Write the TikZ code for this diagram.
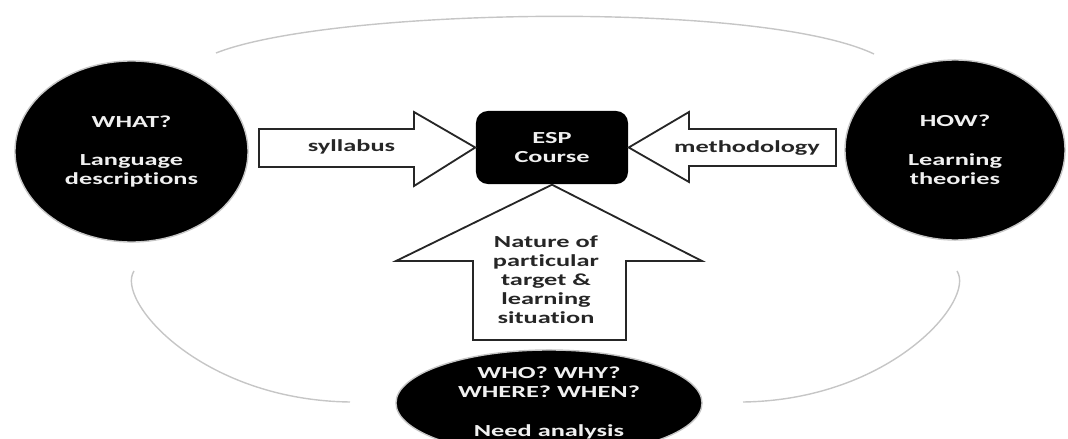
\documentclass[tikz,border=0pt]{standalone}
\usepackage{fontspec}
\setmainfont[FakeStretch=1.56, Ligatures={NoCommon}]{Carlito}
\usetikzlibrary{positioning, calc, shapes.geometric}

\tikzset{
    blob/.style={ellipse, fill=black, draw=gray!45, line width=1pt, inner sep=0pt,
        text=gray!12, align=center, font=\bfseries\fontsize{12}{13.5}\selectfont},
    blockarrow/.style={draw=black!85, line width=1.3pt, fill=white, line join=miter},
    lbl/.style={text=black!85, align=center, inner sep=0pt,
        font=\bfseries\fontsize{12}{13.5}\selectfont},
    ring/.style={draw=gray!45, line width=1pt},
}

\begin{document}
\begin{tikzpicture}[x=0.025cm, y=-0.025cm]
    \useasboundingbox (0,0) rectangle (1068,439);

    % faint ring round the whole cycle
    \draw[ring] (216,53) .. controls (330,8) and (760,0) .. (874,54);
    \draw[ring] (134,271) .. controls (115,300) and (200,400) .. (350,402);
    \draw[ring] (957,271) .. controls (976,300) and (891,400) .. (743,402);

    \node[blob, minimum width=5.825cm, minimum height=4.525cm] (what) at (131.5,151.5)
        {WHAT?\\[14pt]Language\\descriptions};
    \node[blob, minimum width=5.5cm, minimum height=4.5cm] (how) at (955,150)
        {HOW?\\[14pt]Learning\\theories};
    \node[blob, minimum width=7.65cm, minimum height=2.65cm] (who) at (549,403)
        {WHO? WHY?\\WHERE? WHEN?\\[14pt]Need analysis};
    \node[blob, rectangle, rounded corners=0.3cm, draw=none,
        minimum width=3.8cm, minimum height=1.825cm] (esp) at (552,147.5) {ESP\\Course};

    % block arrows into the course
    \draw[blockarrow] (259,129) -- (414,129) -- (414,112) -- (esp.west)
        -- (414,186) -- (414,167) -- (259,167) -- cycle;
    \draw[blockarrow] (836,129) -- (689,129) -- (689,112) -- (esp.east)
        -- (689,182) -- (689,166) -- (836,166) -- cycle;
    \draw[blockarrow] (473,340) -- (473,261) -- (396,261) -- (esp.south)
        -- (702,261) -- (626,261) -- (626,340) -- cycle;

    \node[lbl] (syl) at (351.5,147) {syllabus};
    \node[lbl] (meth) at (747,148) {methodology};
    \node[lbl] (nat) at (546,280) {Nature of\\particular\\target \&\\learning\\situation};
\end{tikzpicture}
\end{document}
